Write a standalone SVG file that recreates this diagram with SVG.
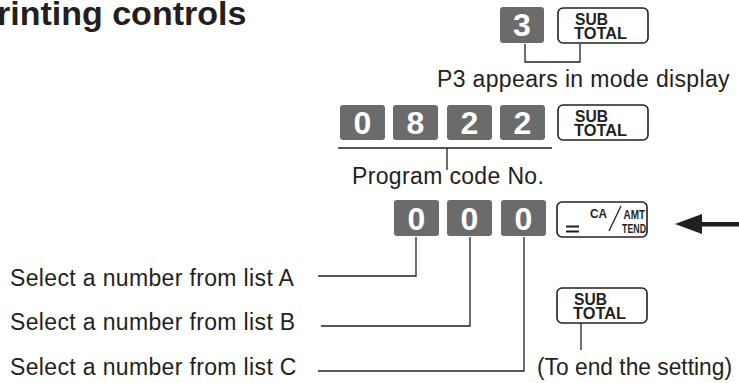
<svg xmlns="http://www.w3.org/2000/svg" width="739" height="383" viewBox="0 0 739 383">
<style>
text{font-family:"Liberation Sans",Arial,sans-serif;fill:#231f20}
.title{font-size:34px;font-weight:bold}
.lbl{font-size:23px;letter-spacing:0.35px}
.key{fill:#6b6b6b}
.dig{font-size:32px;font-weight:bold;fill:#fff;text-anchor:middle}
.fk{fill:#fff;stroke:#231f20;stroke-width:1.6}
.fkt{font-size:17px;font-weight:bold}
.small{font-size:12.5px;font-weight:bold}
.ln{fill:none;stroke:#231f20;stroke-width:1.3}
</style>
<defs>
<g id="subtotal">
<rect class="fk" x="0" y="0" width="90" height="35" rx="5"/>
<text class="fkt" x="17" y="17" textLength="33" lengthAdjust="spacingAndGlyphs">SUB</text>
<text class="fkt" x="16" y="30.5" textLength="53" lengthAdjust="spacingAndGlyphs">TOTAL</text>
</g>
</defs>
<text class="title" x="-3" y="25">rinting controls</text>

<g id="row1">
<g id="key3"><rect class="key" x="500" y="7" width="44" height="36" rx="3"/><text class="dig" x="522" y="36">3</text></g>
<g id="subtotal1"><use href="#subtotal" x="558" y="8"/></g>
<text id="p3label" class="lbl" x="437" y="87">P3 appears in mode display</text>
</g>

<g id="row2">
<g id="key0a"><rect class="key" x="340" y="105" width="45" height="35" rx="3"/><text class="dig" x="362.5" y="134">0</text></g>
<g id="key8"><rect class="key" x="393" y="105" width="45" height="35" rx="3"/><text class="dig" x="415.5" y="134">8</text></g>
<g id="key2a"><rect class="key" x="447" y="105" width="45" height="35" rx="3"/><text class="dig" x="469.5" y="134">2</text></g>
<g id="key2b"><rect class="key" x="500" y="105" width="45" height="35" rx="3"/><text class="dig" x="522.5" y="134">2</text></g>
<g id="subtotal2"><use href="#subtotal" x="558" y="105"/></g>
<text id="pcode" class="lbl" x="352" y="184">Program code No.</text>
</g>

<g id="row3">
<g id="key0b"><rect class="key" x="394" y="200" width="45" height="36" rx="3"/><text class="dig" x="416.5" y="230">0</text></g>
<g id="key0c"><rect class="key" x="447" y="200" width="45" height="36" rx="3"/><text class="dig" x="469.5" y="230">0</text></g>
<g id="key0d"><rect class="key" x="501" y="200" width="45" height="36" rx="3"/><text class="dig" x="523.5" y="230">0</text></g>
<g id="catend">
<rect class="fk" x="557" y="202" width="90" height="35" rx="5"/>
<path d="M566 226.5H579M566 231.5H579" stroke="#231f20" stroke-width="2"/>
<text class="small" x="590" y="218" textLength="17" lengthAdjust="spacingAndGlyphs">CA</text>
<path class="ln" d="M621 206L609 231" stroke-width="1.5"/>
<text class="small" x="623.5" y="219" textLength="21.5" lengthAdjust="spacingAndGlyphs">AMT</text>
<text class="small" x="622" y="233" textLength="24" lengthAdjust="spacingAndGlyphs">TEND</text>
</g>
<g id="arrow"><polygon points="675,224 702,214 702,234" fill="#231f20"/><rect x="700" y="222" width="39" height="4.5" fill="#231f20"/></g>
</g>

<g id="labels">
<text class="lbl" x="10" y="286">Select a number from list A</text>
<text class="lbl" x="10" y="330">Select a number from list B</text>
<text class="lbl" x="10" y="375">Select a number from list C</text>
</g>

<g id="row4">
<g id="subtotal3"><use href="#subtotal" x="557" y="288"/></g>
<text id="endlabel" class="lbl" x="537" y="375" textLength="195" lengthAdjust="spacingAndGlyphs" style="letter-spacing:0">(To end the setting)</text>
</g>

<g id="connectors">
<path class="ln" d="M525 44V62H580V44"/>
<path class="ln" d="M338 148H552M447 148V170"/>
<path class="ln" d="M416 237V276H318"/>
<path class="ln" d="M470 237V326H321"/>
<path class="ln" d="M524 237V371H318"/>
<path class="ln" d="M581 323V350"/>
</g>
</svg>
